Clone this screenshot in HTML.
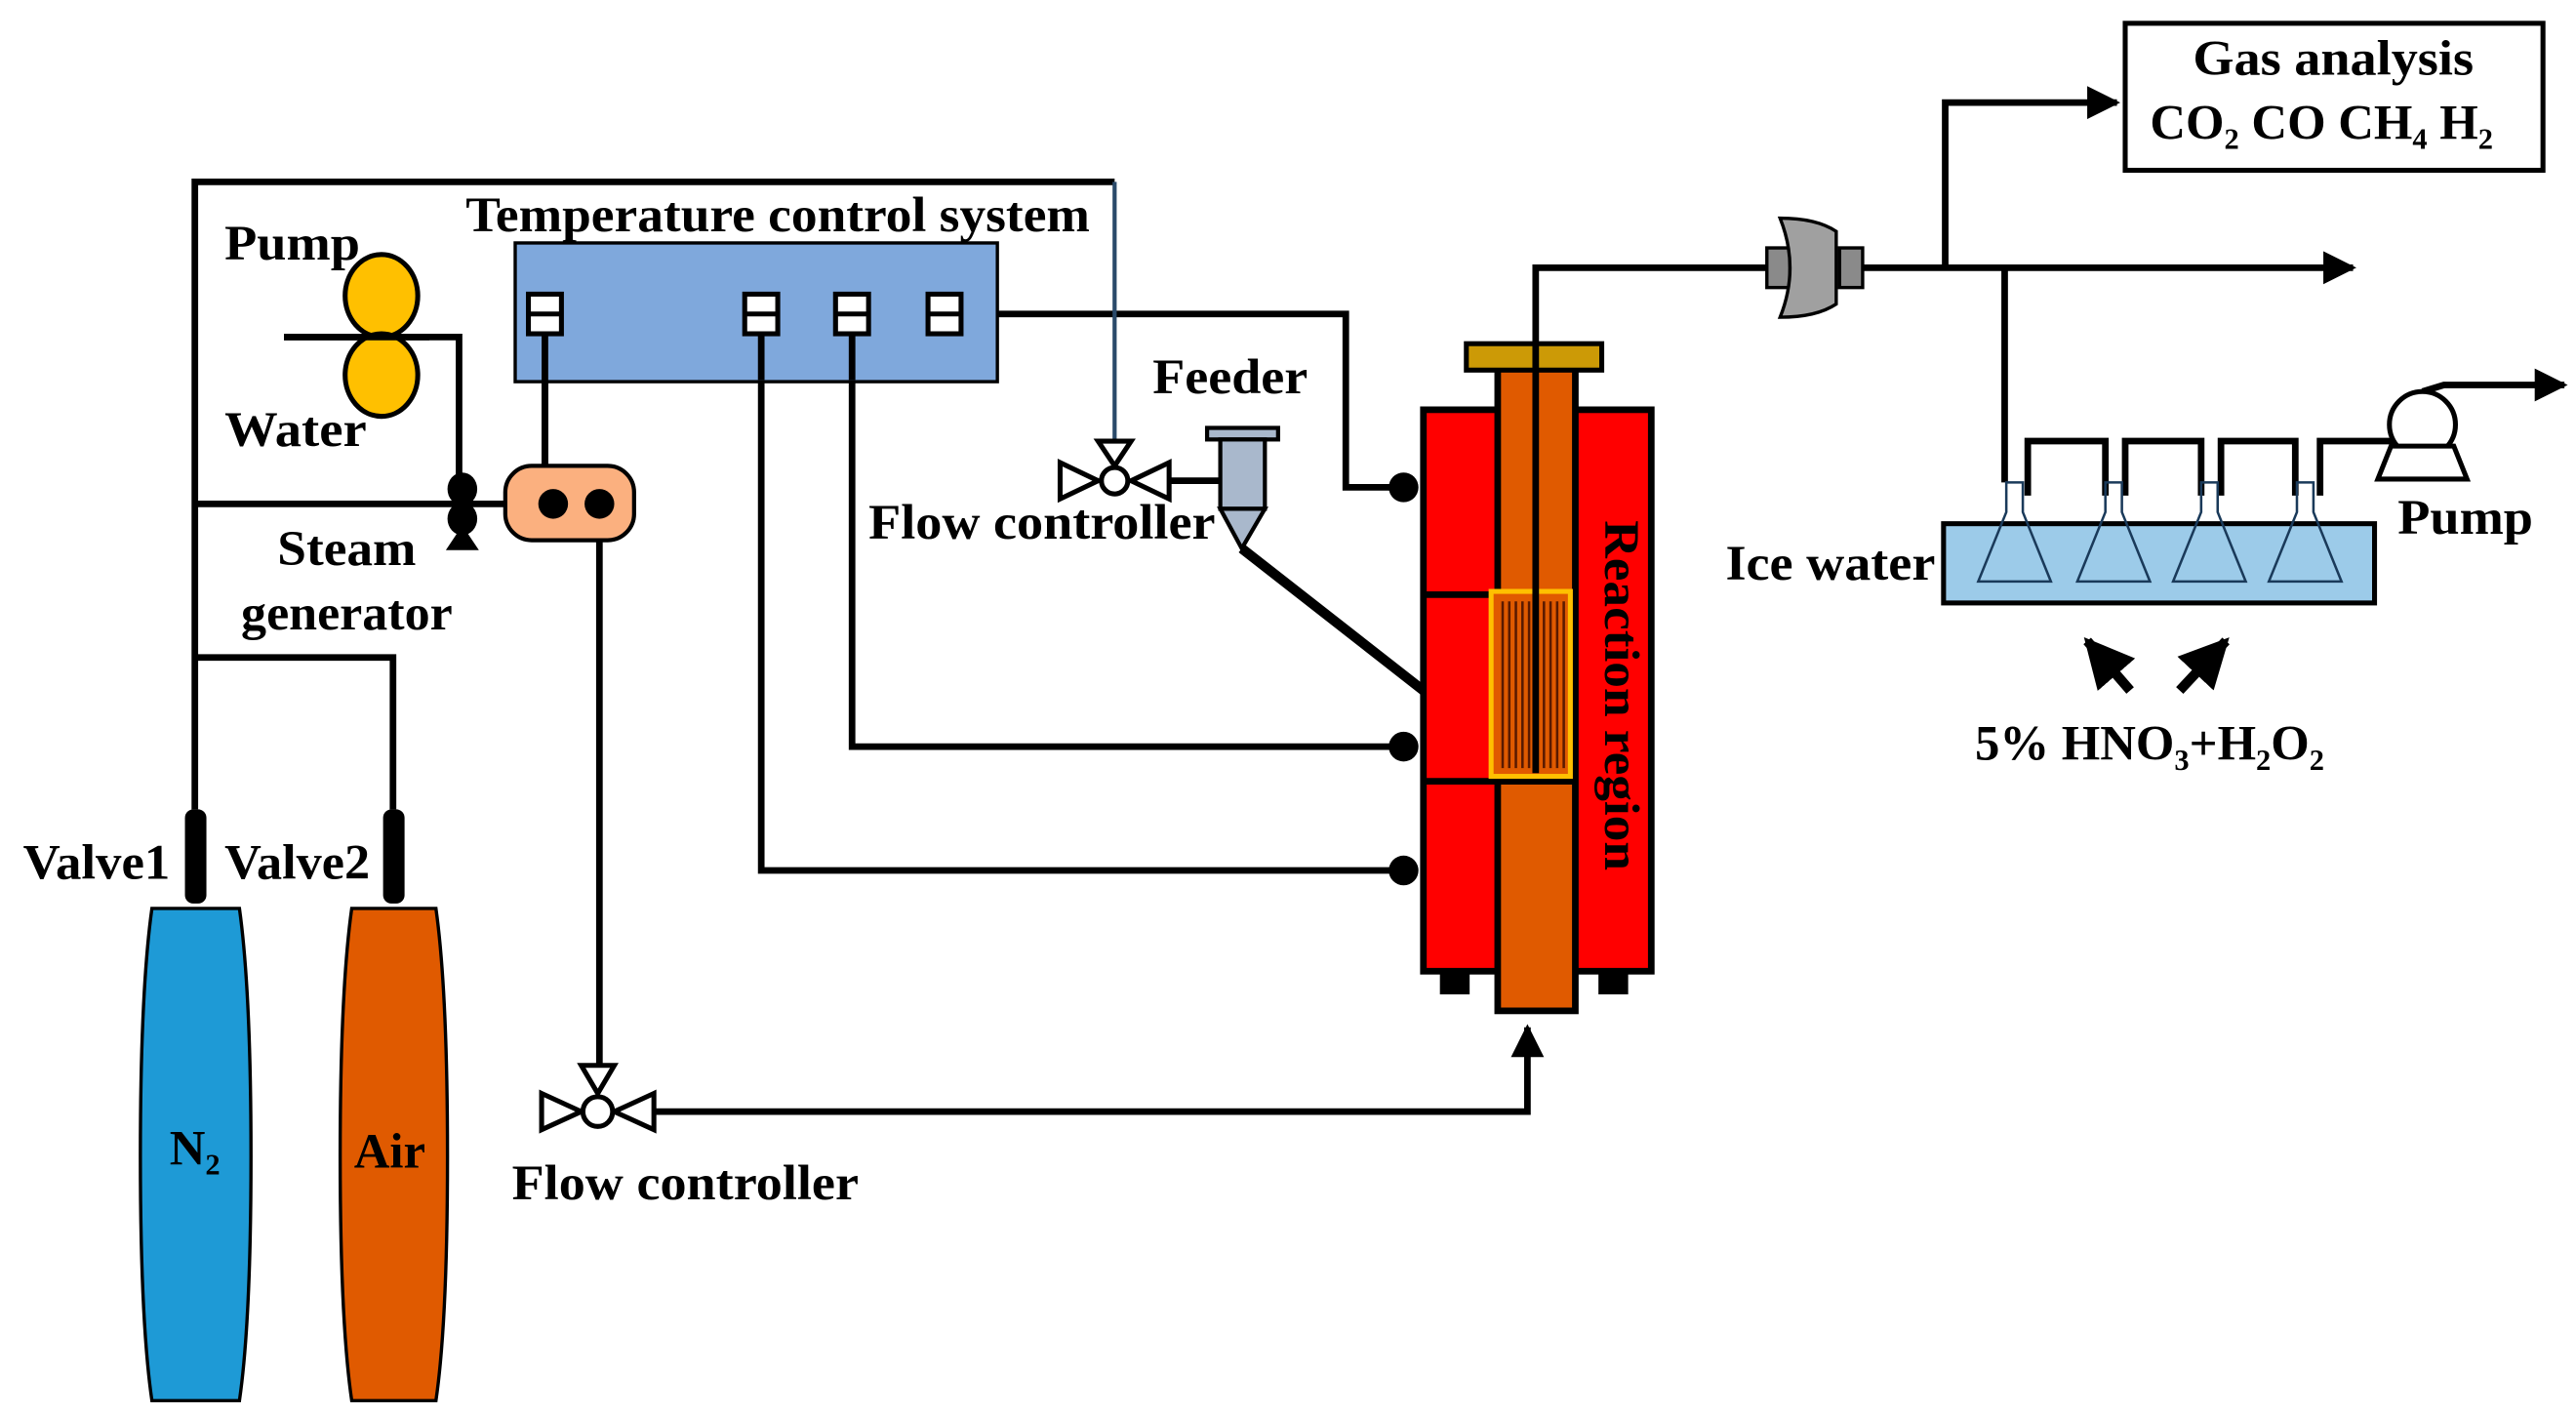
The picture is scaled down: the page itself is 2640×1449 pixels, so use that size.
<!DOCTYPE html>
<html><head><meta charset="utf-8"><style>html,body{margin:0;padding:0;background:#fff}svg{display:block}text{font-family:"Liberation Serif",serif;font-weight:bold;fill:#000}</style></head>
<body>
<svg width="2640" height="1449" viewBox="0 0 1560 856" xmlns="http://www.w3.org/2000/svg">
<defs><marker id="ar" viewBox="0 0 10 10" refX="9" refY="5" markerWidth="5" markerHeight="5" orient="auto"><path d="M0,0 L10,5 L0,10 z" fill="#000"/></marker></defs>
<g fill="none" stroke="#000" stroke-width="4">
<polyline points="118,490 118,110 675,110"/>
<polyline points="118,305 306,305"/>
<polyline points="118,398 238,398 238,490"/>
<polyline points="172,204 278,204 278,295"/>
<polyline points="572,190 815,190 815,295 850,295"/>
<polyline points="516,190 516,452 850,452"/>
<polyline points="461,190 461,527 850,527"/>
<line x1="330" y1="190" x2="330" y2="305"/>
<line x1="363" y1="305" x2="363" y2="645"/>
<polyline points="395,673 925,673 925,622" marker-end="url(#ar)"/>
<line x1="700" y1="291" x2="740" y2="291"/>
<line x1="752" y1="332" x2="862" y2="418" stroke-width="6"/>
<polyline points="930,210 930,162 1070,162"/>
<line x1="1128" y1="162" x2="1425" y2="162" marker-end="url(#ar)"/>
<polyline points="1178,162 1178,62 1282,62" marker-end="url(#ar)"/>
<polyline points="1214,162 1214,292"/>
<polyline points="1228,300 1228,267 1275,267 1275,300"/>
<polyline points="1287,300 1287,267 1333,267 1333,300"/>
<polyline points="1345,300 1345,267 1390,267 1390,300"/>
<polyline points="1405,300 1405,267 1450,267"/>
<polyline points="1467,237 1480,233 1553,233" marker-end="url(#ar)"/>
</g>
<line x1="675" y1="110" x2="675" y2="270" stroke="#2a4a6a" stroke-width="2.5"/>
<rect x="312" y="147" width="292" height="84" fill="#7fa8dc" stroke="#000" stroke-width="2"/>
<g fill="#fff" stroke="#000" stroke-width="3">
<rect x="320" y="178" width="20" height="24"/><rect x="451" y="178" width="20" height="24"/><rect x="506" y="178" width="20" height="24"/><rect x="562" y="178" width="20" height="24"/>
</g>
<g stroke="#000" stroke-width="3"><line x1="320" y1="190" x2="340" y2="190"/><line x1="451" y1="190" x2="471" y2="190"/><line x1="506" y1="190" x2="526" y2="190"/><line x1="562" y1="190" x2="582" y2="190"/></g>
<g stroke="#000" stroke-width="4"><line x1="330" y1="202" x2="330" y2="300"/><line x1="461" y1="202" x2="461" y2="230"/><line x1="516" y1="202" x2="516" y2="230"/></g>
<ellipse cx="231" cy="179" rx="22" ry="25" fill="#ffc000" stroke="#000" stroke-width="3"/>
<ellipse cx="231" cy="227" rx="22" ry="25" fill="#ffc000" stroke="#000" stroke-width="3"/>
<line x1="172" y1="204" x2="260" y2="204" stroke="#000" stroke-width="4"/>
<ellipse cx="280" cy="296" rx="9" ry="10" fill="#000"/><ellipse cx="280" cy="314" rx="9" ry="10" fill="#000"/><path d="M270,333 L290,333 L280,318 z" fill="#000"/>
<rect x="306" y="282" width="78" height="45" rx="16" fill="#fbb07f" stroke="#000" stroke-width="2.5"/>
<circle cx="335" cy="305" r="9" fill="#000"/><circle cx="363" cy="305" r="9" fill="#000"/>
<rect x="112" y="490" width="13" height="57" rx="5" fill="#000"/><rect x="232" y="490" width="13" height="57" rx="5" fill="#000"/>
<path d="M92,550 L145,550 Q152,600 152,700 Q152,800 145,848 L92,848 Q85,800 85,700 Q85,600 92,550 z" fill="#1e9ad6" stroke="#000" stroke-width="2"/>
<path d="M213,550 L264,550 Q271,600 271,700 Q271,800 264,848 L213,848 Q206,800 206,700 Q206,600 213,550 z" fill="#e05a00" stroke="#000" stroke-width="2"/>
<g fill="#fff" stroke="#000" stroke-width="3">
<path d="M328,662 L352,673 L328,684 z"/><path d="M396,662 L372,673 L396,684 z"/><path d="M352,645 L372,645 L362,662 z"/><circle cx="362" cy="673" r="9"/>
<path d="M642,280 L665,291 L642,302 z"/><path d="M708,280 L685,291 L708,302 z"/><path d="M665,267 L685,267 L675,282 z"/><circle cx="675" cy="291" r="8"/>
</g>
<rect x="731" y="259" width="43" height="7" fill="#a9b8cc" stroke="#000" stroke-width="2.5"/>
<rect x="739" y="266" width="27" height="42" fill="#a9b8cc" stroke="#000" stroke-width="2.5"/>
<path d="M739,308 L766,308 L752,332 z" fill="#a9b8cc" stroke="#000" stroke-width="2.5"/>
<rect x="862" y="248" width="138" height="340" fill="#ff0000" stroke="#000" stroke-width="4"/>
<rect x="872" y="588" width="18" height="14" fill="#000"/><rect x="968" y="588" width="18" height="14" fill="#000"/>
<rect x="907" y="222" width="47" height="390" fill="#e05a00" stroke="#000" stroke-width="4"/>
<rect x="888" y="208" width="82" height="16" fill="#cc9a06" stroke="#000" stroke-width="3"/>
<line x1="862" y1="360" x2="905" y2="360" stroke="#000" stroke-width="4"/>
<line x1="862" y1="473" x2="954" y2="473" stroke="#000" stroke-width="4"/>
<rect x="903" y="358" width="48" height="112" fill="#e05a00" stroke="#ffc000" stroke-width="3"/>
<g stroke="#5a1a00" stroke-width="1.5">
<line x1="910" y1="364" x2="910" y2="465"/><line x1="914" y1="364" x2="914" y2="465"/><line x1="918" y1="364" x2="918" y2="465"/><line x1="922" y1="364" x2="922" y2="465"/><line x1="926" y1="364" x2="926" y2="465"/><line x1="935" y1="364" x2="935" y2="465"/><line x1="939" y1="364" x2="939" y2="465"/><line x1="943" y1="364" x2="943" y2="465"/><line x1="947" y1="364" x2="947" y2="465"/>
</g>
<line x1="930" y1="208" x2="930" y2="468" stroke="#000" stroke-width="4"/>
<circle cx="850" cy="295" r="9" fill="#000"/><circle cx="850" cy="452" r="9" fill="#000"/><circle cx="850" cy="527" r="9" fill="#000"/>
<text transform="translate(972,315) rotate(90)" font-size="30" textLength="212" lengthAdjust="spacingAndGlyphs">Reaction region</text>
<rect x="1070" y="150" width="14" height="24" fill="#8a8a8a" stroke="#000" stroke-width="2"/>
<rect x="1114" y="150" width="14" height="24" fill="#8a8a8a" stroke="#000" stroke-width="2"/>
<path d="M1078,132 Q1100,132 1112,140 L1112,184 Q1100,192 1078,192 Q1090,162 1078,132 z" fill="#a0a0a0" stroke="#000" stroke-width="2"/>
<rect x="1287" y="14" width="253" height="89" fill="#fff" stroke="#000" stroke-width="3"/>
<text x="1328" y="45" font-size="30" textLength="170" lengthAdjust="spacingAndGlyphs">Gas analysis</text>
<text x="1302" y="84" font-size="30">CO<tspan font-size="18" dy="6">2</tspan><tspan dy="-6"> CO CH</tspan><tspan font-size="18" dy="6">4</tspan><tspan dy="-6"> H</tspan><tspan font-size="18" dy="6">2</tspan></text>
<rect x="1177" y="317" width="261" height="48" fill="#9ccbe9" stroke="#000" stroke-width="3"/>
<g fill="none" stroke="#1a3a5a" stroke-width="1.5">
<path d="M1215,292 L1225,292 L1225,310 L1242,352 L1198,352 L1215,310 z"/>
<path d="M1275,292 L1285,292 L1285,310 L1302,352 L1258,352 L1275,310 z"/>
<path d="M1333,292 L1343,292 L1343,310 L1360,352 L1316,352 L1333,310 z"/>
<path d="M1391,292 L1401,292 L1401,310 L1418,352 L1374,352 L1391,310 z"/>
</g>
<circle cx="1467" cy="257" r="20" fill="#fff" stroke="#000" stroke-width="3"/>
<path d="M1448,270 L1486,270 L1494,290 L1440,290 z" fill="#fff" stroke="#000" stroke-width="3"/>
<g stroke="#000" stroke-width="6" marker-end="url(#ar)"><line x1="1290" y1="418" x2="1264" y2="388"/><line x1="1320" y1="418" x2="1348" y2="388"/></g>
<g font-size="30">
<text x="282" y="140" textLength="378" lengthAdjust="spacingAndGlyphs">Temperature control system</text>
<text x="136" y="157" textLength="82" lengthAdjust="spacingAndGlyphs">Pump</text>
<text x="136" y="270" textLength="86" lengthAdjust="spacingAndGlyphs">Water</text>
<text x="168" y="342" textLength="84" lengthAdjust="spacingAndGlyphs">Steam</text>
<text x="146" y="381" textLength="128" lengthAdjust="spacingAndGlyphs">generator</text>
<text x="14" y="532" textLength="89" lengthAdjust="spacingAndGlyphs">Valve1</text>
<text x="136" y="532" textLength="88" lengthAdjust="spacingAndGlyphs">Valve2</text>
<text x="118" y="705" text-anchor="middle">N<tspan font-size="18" dy="6">2</tspan></text>
<text x="236" y="707" text-anchor="middle">Air</text>
<text x="310" y="726" textLength="210" lengthAdjust="spacingAndGlyphs">Flow controller</text>
<text x="526" y="326" textLength="210" lengthAdjust="spacingAndGlyphs">Flow controller</text>
<text x="698" y="238" textLength="94" lengthAdjust="spacingAndGlyphs">Feeder</text>
<text x="1045" y="351" textLength="127" lengthAdjust="spacingAndGlyphs">Ice water</text>
<text x="1452" y="323" textLength="82" lengthAdjust="spacingAndGlyphs">Pump</text>
<text x="1196" y="460">5% HNO<tspan font-size="18" dy="6">3</tspan><tspan dy="-6">+H</tspan><tspan font-size="18" dy="6">2</tspan><tspan dy="-6">O</tspan><tspan font-size="18" dy="6">2</tspan></text>
</g>
</svg>
</body></html>
